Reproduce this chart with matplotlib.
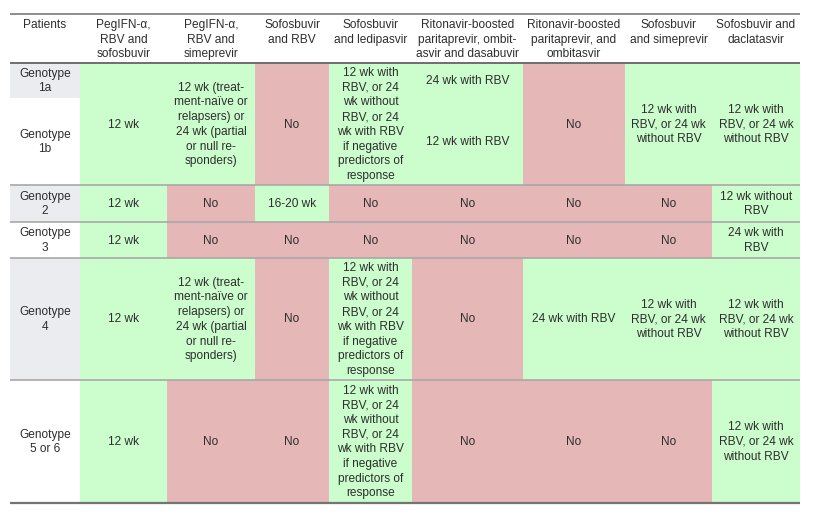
import matplotlib
matplotlib.use("Agg")
import matplotlib.pyplot as plt
from matplotlib.patches import Rectangle

plt.rcParams['font.family'] = ['Liberation Sans', 'DejaVu Sans']

# ---- data ----
headers = ["Patients",
           "PegIFN-α,\nRBV and\nsofosbuvir",
           "PegIFN-α,\nRBV and\nsimeprevir",
           "Sofosbuvir\nand RBV",
           "Sofosbuvir\nand ledipasvir",
           "Ritonavir-boosted\nparitaprevir, ombit-\nasvir and dasabuvir",
           "Ritonavir-boosted\nparitaprevir, and\nombitasvir",
           "Sofosbuvir\nand simeprevir",
           "Sofosbuvir and\ndaclatasvir"]

row_labels = ["Genotype\n1a", "Genotype\n1b", "Genotype\n2",
              "Genotype\n3", "Genotype\n4", "Genotype\n5 or 6"]

peg_sim = "12 wk (treat-\nment-naïve or\nrelapsers) or\n24 wk (partial\nor null re-\nsponders)"
sof_led = ("12 wk with\nRBV, or 24\nwk without\nRBV, or 24\nwk with RBV\n"
           "if negative\npredictors of\nresponse")
rbv_or = "12 wk with\nRBV, or 24 wk\nwithout RBV"

# each column for genotype 1: either one value for 1a+1b, or a pair (1a, 1b)
geno1_text = ["12 wk", peg_sim, "No", sof_led,
              ("24 wk with RBV", "12 wk with RBV"), "No", rbv_or, rbv_or]
geno1_ok = [True, True, False, True, True, False, True, True]

geno2_text = ["12 wk", "No", "16-20 wk", "No", "No", "No", "No", "12 wk without\nRBV"]
geno2_ok = [True, False, True, False, False, False, False, True]

geno3_text = ["12 wk", "No", "No", "No", "No", "No", "No", "24 wk with\nRBV"]
geno3_ok = [True, False, False, False, False, False, False, True]

geno4_text = ["12 wk", peg_sim, "No", sof_led, "No", "24 wk with RBV", rbv_or, rbv_or]
geno4_ok = [True, True, False, True, False, True, True, True]

geno56_text = ["12 wk", "No", "No", sof_led, "No", "No", "No", rbv_or]
geno56_ok = [True, False, False, True, False, False, False, True]

# ---- layout ----
col_edges = [10, 80, 167, 255, 329, 412, 523, 625, 712, 800]
row_edges = [63, 98, 185, 222, 258, 380, 503]   # 1a, 1b, 2, 3, 4, 5/6
header_top = 14

GREEN = "#ccfdcc"
PINK = "#e5b7b7"
LABEL_GRAY = "#eaecf0"
TEXT = "#2e2e2e"
FS = 8.6
LS = 1.3

fig = plt.figure(figsize=(8.13, 5.14), dpi=100)
ax = fig.add_axes([0, 0, 1, 1])
ax.set_xlim(0, 813)
ax.set_ylim(514, 0)
ax.axis("off")


def cell(x0, x1, y0, y1, color, text):
    ax.add_patch(Rectangle((x0, y0), x1 - x0, y1 - y0, facecolor=color,
                           edgecolor="none", zorder=1))
    ax.text((x0 + x1) / 2, (y0 + y1) / 2 + 0.5, text, ha="center", va="center",
            multialignment="center", fontsize=FS, color=TEXT,
            linespacing=LS, zorder=3)


# header
for i, h in enumerate(headers):
    x0, x1 = col_edges[i], col_edges[i + 1]
    ax.text((x0 + x1) / 2, header_top + 5, h, ha="center", va="top",
            multialignment="center", fontsize=FS, color=TEXT,
            linespacing=LS, zorder=3)

# row labels
for r, lab in enumerate(row_labels):
    y0, y1 = row_edges[r], row_edges[r + 1]
    bg = LABEL_GRAY if r % 2 == 0 else "white"
    cell(col_edges[0], col_edges[1], y0, y1, bg, lab)

# genotype 1 (spans 1a + 1b)
for c, (t, ok) in enumerate(zip(geno1_text, geno1_ok)):
    x0, x1 = col_edges[c + 1], col_edges[c + 2]
    color = GREEN if ok else PINK
    if isinstance(t, tuple):
        ax.add_patch(Rectangle((x0, row_edges[0]), x1 - x0,
                               row_edges[2] - row_edges[0],
                               facecolor=color, edgecolor="none", zorder=1))
        for k in range(2):
            y0, y1 = row_edges[k], row_edges[k + 1]
            ax.text((x0 + x1) / 2, (y0 + y1) / 2 + 0.5, t[k], ha="center",
                    va="center", fontsize=FS, color=TEXT, zorder=3)
    else:
        cell(x0, x1, row_edges[0], row_edges[2], color, t)

others = [(geno2_text, geno2_ok), (geno3_text, geno3_ok),
          (geno4_text, geno4_ok), (geno56_text, geno56_ok)]
for r, (texts, oks) in enumerate(others):
    y0, y1 = row_edges[r + 2], row_edges[r + 3]
    for c, (t, ok) in enumerate(zip(texts, oks)):
        cell(col_edges[c + 1], col_edges[c + 2], y0, y1,
             GREEN if ok else PINK, t)

# rules
L, R = col_edges[0], col_edges[-1]
ax.plot([L, R], [header_top, header_top], color="#7a7a7a", lw=1.2, zorder=4,
        solid_capstyle="butt")
ax.plot([L, R], [row_edges[0], row_edges[0]], color="#6e6e6e", lw=1.4, zorder=4,
        solid_capstyle="butt")
for y in row_edges[2:-1]:
    ax.plot([L, R], [y, y], color="#a8a8a8", lw=1.2, zorder=4,
            solid_capstyle="butt")
ax.plot([L, R], [row_edges[-1], row_edges[-1]], color="#747474", lw=1.6, zorder=4,
        solid_capstyle="butt")

fig.savefig("out.png", dpi=100, facecolor="white")
